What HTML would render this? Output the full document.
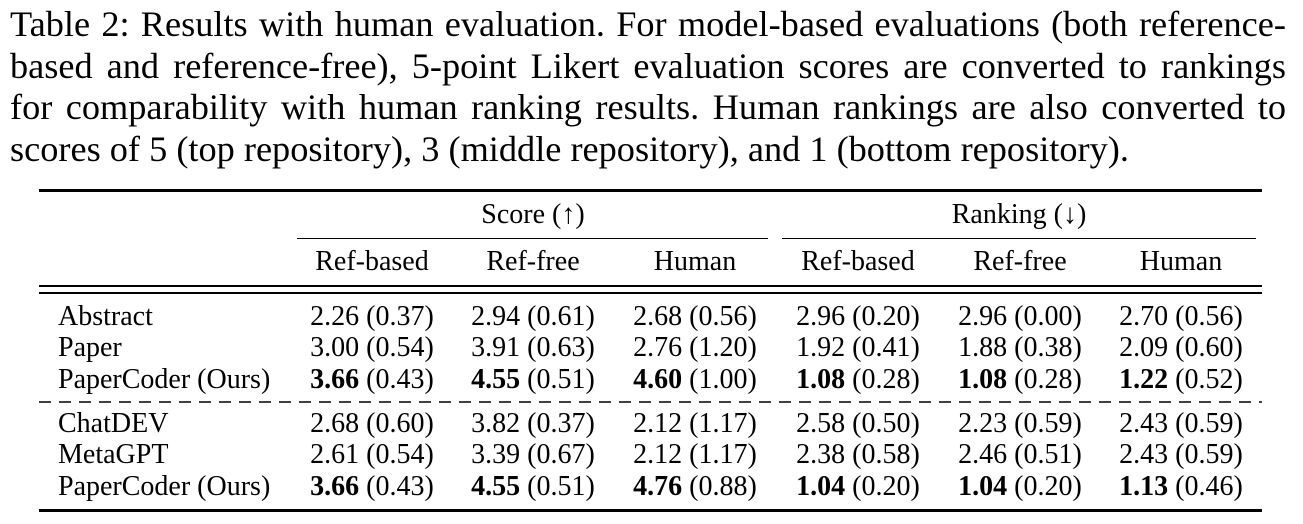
<!DOCTYPE html>
<html><head><meta charset="utf-8"><style>
body{margin:0;width:1303px;height:524px;background:#fff;position:relative;overflow:hidden;font-family:"Liberation Serif",serif;color:#000}
.cap{position:absolute;left:10px;width:1276px;font-size:36.3px;line-height:41.5px;text-align:justify;text-align-last:justify;white-space:nowrap}
.cap.last{text-align-last:left}
.r{position:absolute;left:0;width:1303px;height:28px;font-size:28px;line-height:28px;white-space:nowrap}
.r span{position:absolute;top:0;width:170px;margin-left:-85px;text-align:center}
.r span.l{margin-left:0;text-align:left;left:58px;width:260px}
.ln{position:absolute;background:#000}
</style></head><body>
<div class="cap" style="top:4px">Table 2: Results with human evaluation. For model-based evaluations (both reference-</div>
<div class="cap" style="top:45.5px">based and reference-free), 5-point Likert evaluation scores are converted to rankings</div>
<div class="cap" style="top:87px">for comparability with human ranking results. Human rankings are also converted to</div>
<div class="cap last" style="top:128.5px">scores of 5 (top repository), 3 (middle repository), and 1 (bottom repository).</div>

<div class="ln" style="left:39px;width:1223px;top:189px;height:3px"></div>
<div class="r" style="top:201px"><span style="left:533px">Score (↑)</span><span style="left:1019px">Ranking (↓)</span></div>
<div class="ln" style="left:297px;width:471px;top:237.5px;height:1.3px"></div>
<div class="ln" style="left:782px;width:474px;top:237.5px;height:1.3px"></div>
<div class="r" style="top:248px"><span style="left:372px">Ref-based</span><span style="left:533px">Ref-free</span><span style="left:695px">Human</span><span style="left:858px">Ref-based</span><span style="left:1020px">Ref-free</span><span style="left:1181px">Human</span></div>
<div class="ln" style="left:39px;width:1223px;top:285px;height:1.6px"></div>
<div class="ln" style="left:39px;width:1223px;top:292px;height:1.6px"></div>

<div class="r" style="top:303px"><span class="l">Abstract</span><span style="left:372px">2.26 (0.37)</span><span style="left:533px">2.94 (0.61)</span><span style="left:695px">2.68 (0.56)</span><span style="left:858px">2.96 (0.20)</span><span style="left:1020px">2.96 (0.00)</span><span style="left:1181px">2.70 (0.56)</span></div>
<div class="r" style="top:334px"><span class="l">Paper</span><span style="left:372px">3.00 (0.54)</span><span style="left:533px">3.91 (0.63)</span><span style="left:695px">2.76 (1.20)</span><span style="left:858px">1.92 (0.41)</span><span style="left:1020px">1.88 (0.38)</span><span style="left:1181px">2.09 (0.60)</span></div>
<div class="r" style="top:366px"><span class="l">PaperCoder (Ours)</span><span style="left:372px"><b>3.66</b> (0.43)</span><span style="left:533px"><b>4.55</b> (0.51)</span><span style="left:695px"><b>4.60</b> (1.00)</span><span style="left:858px"><b>1.08</b> (0.28)</span><span style="left:1020px"><b>1.08</b> (0.28)</span><span style="left:1181px"><b>1.22</b> (0.52)</span></div>
<svg style="position:absolute;left:39px;top:400px" width="1223" height="4"><line x1="0" y1="2" x2="1223" y2="2" stroke="#000" stroke-width="1.6" stroke-dasharray="12,8"/></svg>
<div class="r" style="top:410px"><span class="l">ChatDEV</span><span style="left:372px">2.68 (0.60)</span><span style="left:533px">3.82 (0.37)</span><span style="left:695px">2.12 (1.17)</span><span style="left:858px">2.58 (0.50)</span><span style="left:1020px">2.23 (0.59)</span><span style="left:1181px">2.43 (0.59)</span></div>
<div class="r" style="top:441px"><span class="l">MetaGPT</span><span style="left:372px">2.61 (0.54)</span><span style="left:533px">3.39 (0.67)</span><span style="left:695px">2.12 (1.17)</span><span style="left:858px">2.38 (0.58)</span><span style="left:1020px">2.46 (0.51)</span><span style="left:1181px">2.43 (0.59)</span></div>
<div class="r" style="top:473px"><span class="l">PaperCoder (Ours)</span><span style="left:372px"><b>3.66</b> (0.43)</span><span style="left:533px"><b>4.55</b> (0.51)</span><span style="left:695px"><b>4.76</b> (0.88)</span><span style="left:858px"><b>1.04</b> (0.20)</span><span style="left:1020px"><b>1.04</b> (0.20)</span><span style="left:1181px"><b>1.13</b> (0.46)</span></div>
<div class="ln" style="left:39px;width:1223px;top:509px;height:3px"></div>
</body></html>
